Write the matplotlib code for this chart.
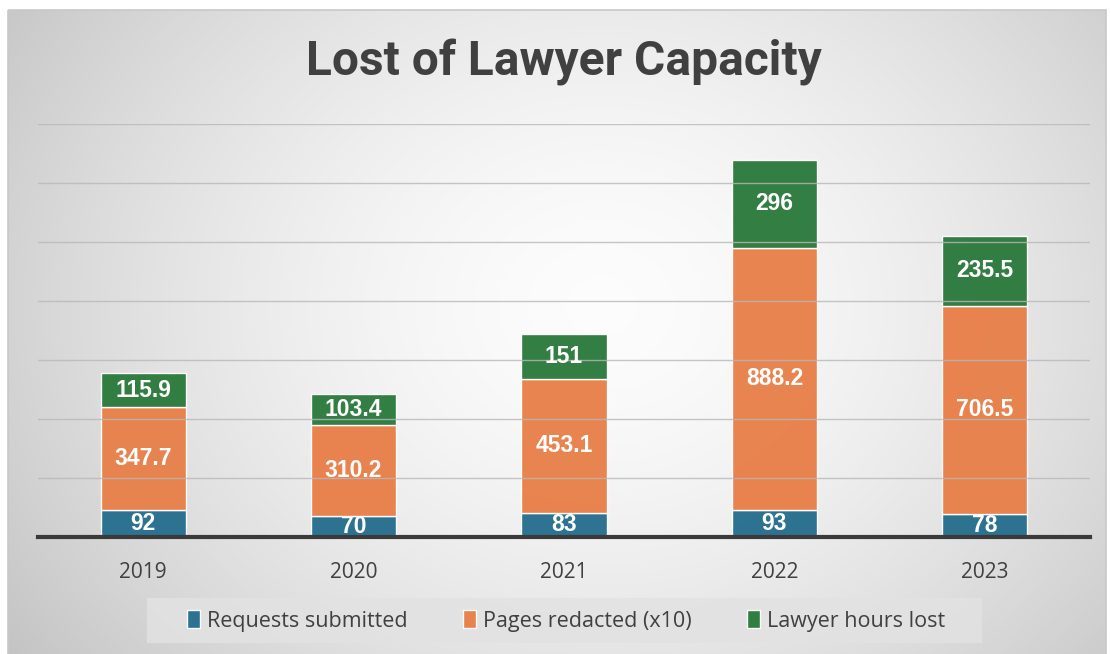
import numpy as np
import matplotlib
matplotlib.use("Agg")
import matplotlib.pyplot as plt
from matplotlib.patches import Rectangle

years = ["2019", "2020", "2021", "2022", "2023"]
requests = [92, 70, 83, 93, 78]
pages = [347.7, 310.2, 453.1, 888.2, 706.5]
hours = [115.9, 103.4, 151, 296, 235.5]
series_names = ["Requests submitted", "Pages redacted (x10)", "Lawyer hours lost"]
title = "Lost of Lawyer Capacity"

colors = ["#276F8E", "#E8804A", "#2C7A3D"]

W, H = 1111, 654
fig = plt.figure(figsize=(W / 100, H / 100), dpi=100)
fig.patch.set_facecolor("white")

# background gradient
bg = fig.add_axes([0, 0, 1, 1], zorder=0)
bg.set_xlim(0, W)
bg.set_ylim(H, 0)
bg.axis("off")
yy, xx = np.mgrid[0:H, 0:W]
cx, cy = 600, 300
r = np.sqrt(((xx - cx) / 620.0) ** 2 + ((yy - cy) / 520.0) ** 2)
val = 0.99 - 0.17 * np.clip(r, 0, 1.3) ** 1.6
img = np.dstack([val, val, val])
bg.imshow(img, extent=(8, 1106, 654, 10), aspect="auto", zorder=0)
bg.add_patch(Rectangle((8, 10), 1098, 650, fill=False, edgecolor="#C8C8C8", lw=1.2, zorder=1))
# legend box
bg.add_patch(Rectangle((147, 598), 835, 45, facecolor="#E2E2E2", edgecolor="none", alpha=0.85, zorder=1))

ax = fig.add_axes([38 / W, 117 / H, (1090 - 38) / W, (537 - 124) / H], zorder=2)
ax.patch.set_alpha(0)
x = np.arange(len(years))
width = 0.405
bottoms = np.zeros(len(years))
for vals, c, name in zip([requests, pages, hours], colors, series_names):
    bars = ax.bar(x, vals, width, bottom=bottoms, color=c, edgecolor=(1, 1, 1, 0.5),
                  linewidth=1.0, label=name, zorder=2, alpha=0.97)
    for xi, v, b in zip(x, vals, bottoms):
        lab = f"{v:g}"
        ax.text(xi, b + v / 2, lab, ha="center", va="center", color="white",
                fontsize=16.5, fontweight="bold", family="Liberation Sans", zorder=4)
    bottoms = bottoms + np.array(vals)

ax.set_xlim(-0.5, 4.5)
ax.set_ylim(0, 1400)
ax.set_yticks(np.arange(200, 1401, 200))
ax.yaxis.grid(True, color="#B8B8B8", lw=1.0, zorder=3, alpha=0.8)
ax.set_axisbelow(False)
ax.tick_params(axis="y", left=False, labelleft=False)
ax.set_xticks(x)
ax.set_xticklabels(years, fontsize=15, color="#404040", family="Open Sans")
ax.tick_params(axis="x", length=0, pad=18)
for s in ["top", "right", "left"]:
    ax.spines[s].set_visible(False)
ax.spines["bottom"].set_color("#3A3A3A")
ax.spines["bottom"].set_linewidth(3)
ax.spines["bottom"].set_zorder(5)

fig.text(564 / W, 1 - 62 / H, title, ha="center", va="center", fontsize=34.5,
         fontweight="bold", color="#404040", family="Roboto")

leg = fig.legend(loc="center", bbox_to_anchor=(566 / W, 1 - 621 / H), ncol=3, frameon=False,
                 prop={"family": "Open Sans", "size": 15.5}, handlelength=0.6, handleheight=0.9,
                 handletextpad=0.3, columnspacing=2.6)
for t in leg.get_texts():
    t.set_color("#404040")

fig.savefig("out.png", dpi=100, facecolor="white")
